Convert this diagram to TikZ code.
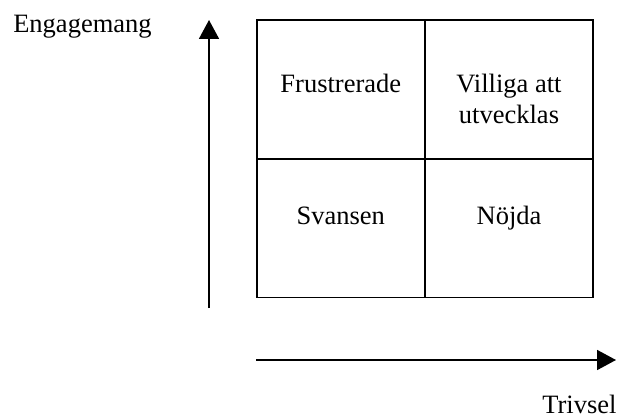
\documentclass[tikz,border=0pt]{standalone}
\usepackage{fontspec}
\setmainfont{Liberation Serif}
\usetikzlibrary{arrows.meta}
\begin{document}
\begin{tikzpicture}[x=1pt,y=-1pt,
  cell/.style={draw, line width=1.6pt, minimum width=168.2pt, minimum height=138.8pt,
               inner sep=0pt, outer sep=0pt},
  lbl/.style={font=\fontsize{26.5}{31.2}\selectfont, inner sep=0pt, outer sep=0pt},
  axis/.style={line width=1.8pt, -{Triangle[length=19pt,width=20pt]}}]
  \useasboundingbox (0,0) rectangle (617,417);

  % 2x2 matrix of cells
  \node[cell] (fr) at (340.8, 89.4) {};
  \node[cell] (vi) at (509.0, 89.4) {};
  \node[cell] (sv) at (340.8, 228.2) {};
  \node[cell] (no) at (509.0, 228.2) {};

  % cell texts, set from the top of each cell (base = last line)
  \node[lbl, anchor=base] (tfr) at ([yshift=-72.3pt]fr.north) {Frustrerade};
  \node[lbl, anchor=base, align=center] (tvi) at ([yshift=-103.5pt]vi.north) {Villiga att\\utvecklas};
  \node[lbl, anchor=base] (tsv) at ([yshift=-65.5pt]sv.north) {Svansen};
  \node[lbl, anchor=base] (tno) at ([yshift=-65.5pt]no.north) {Nöjda};

  % axes
  \coordinate (ylo) at (209, 308);
  \coordinate (yhi) at (209, 20);
  \coordinate (xlo) at (256, 360);
  \coordinate (xhi) at (616, 360);
  \draw[axis] (ylo) -- (yhi);
  \draw[axis] (xlo) -- (xhi);

  % axis titles
  \node[lbl, anchor=base west] (ty) at (13.3, 32.3) {Engagemang};
  \node[lbl, anchor=base east] (tx) at (616.5, 413.3) {Trivsel};
\end{tikzpicture}
\end{document}
